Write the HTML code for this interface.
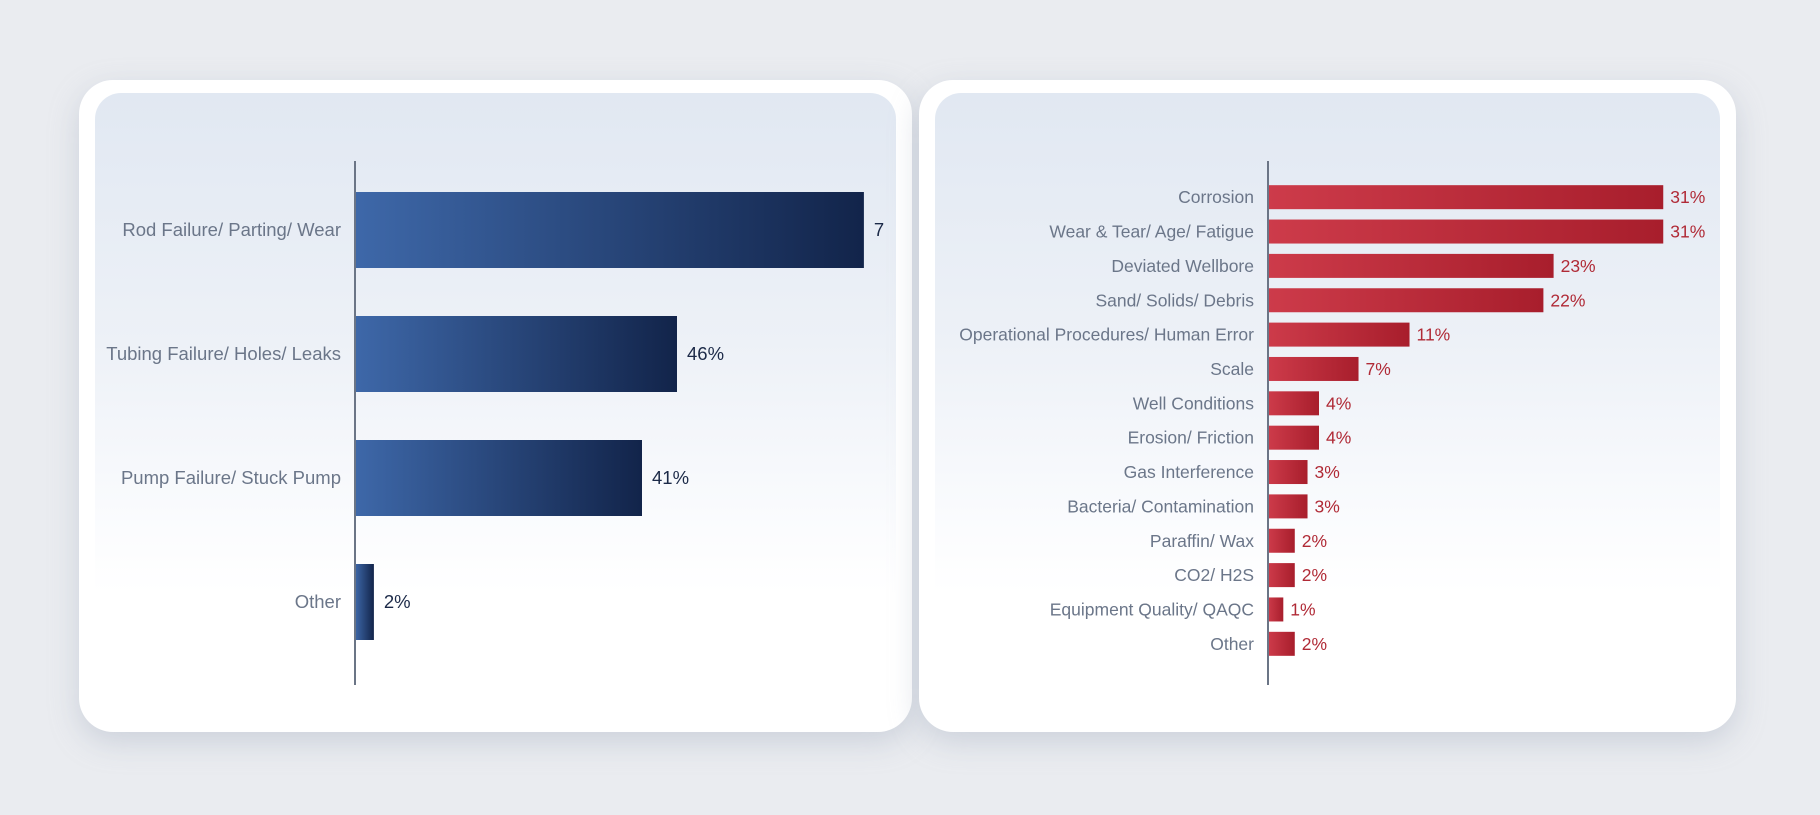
<!DOCTYPE html>
<html><head><meta charset="utf-8"><style>
html,body{margin:0;padding:0;width:1820px;height:815px;background:#eaecf0;overflow:hidden;font-family:"Liberation Sans",sans-serif}
.card{position:absolute;top:80px;height:652px;background:#fff;border-radius:34px;box-shadow:0 10px 30px rgba(150,160,180,.35)}
.inner{position:absolute;top:13px;bottom:13px;left:16px;right:16px;border-radius:26px;background:linear-gradient(#e1e8f2 0%,#edf1f7 40%,#fbfcfe 70%,#fff 80%)}
svg{position:absolute;left:0;top:0}
</style></head><body>
<div class="card" style="left:79px;width:833px"><div class="inner"></div></div>
<div class="card" style="left:919px;width:817px"><div class="inner"></div></div>
<svg id="chart" width="1820" height="815">
<defs>
<linearGradient id="gb" x1="0" x2="1"><stop offset="0" stop-color="#3e68a9"/><stop offset="1" stop-color="#12244a"/></linearGradient>
<linearGradient id="gr" x1="0" x2="1"><stop offset="0" stop-color="#cd3b4a"/><stop offset="1" stop-color="#a81e2c"/></linearGradient>
</defs>
</svg>
<script>
const leftCats=["Rod Failure/ Parting/ Wear","Tubing Failure/ Holes/ Leaks","Pump Failure/ Stuck Pump","Other"];
const leftVals=[72.7,46,41,2.7];
const leftLabels=["7","46%","41%","2%"];
const rightCats=["Corrosion","Wear & Tear/ Age/ Fatigue","Deviated Wellbore","Sand/ Solids/ Debris","Operational Procedures/ Human Error","Scale","Well Conditions","Erosion/ Friction","Gas Interference","Bacteria/ Contamination","Paraffin/ Wax","CO2/ H2S","Equipment Quality/ QAQC","Other"];
const rightVals=[31,31,22.4,21.6,11.1,7.1,4,4,3.1,3.1,2.1,2.1,1.2,2.1];
const rightLabels=["31%","31%","23%","22%","11%","7%","4%","4%","3%","3%","2%","2%","1%","2%"];
const NS="http://www.w3.org/2000/svg";
const svg=document.getElementById('chart');
function mk(tag,attrs,parent){const e=document.createElementNS(NS,tag);for(const k in attrs)e.setAttribute(k,attrs[k]);(parent||svg).appendChild(e);return e;}
function drawChart(o){
  const g=mk('g',{});
  
  
  const band=(o.bottom-o.top)/o.cats.length;
  const x=v=>o.x0+v*o.ppu;
  const y=i=>o.top+band*i+band/2;
  o.vals.forEach((v,i)=>{
    const r=mk('rect',{x:o.x0,y:y(i)-o.bh/2,width:x(v)-o.x0,height:o.bh,fill:o.fill},g);
    
    
    const t=mk('text',{x:o.x0-14,y:y(i)+6,'text-anchor':'end','font-size':o.fs,fill:'#6b7689'},g);
    t.textContent=o.cats[i];
    
    
    const vl=mk('text',{x:x(v)+o.gap,y:y(i)+6,'font-size':o.fs,fill:o.vc},g);
    vl.textContent=o.labels[i];
    
    
  });
  const ax=mk('line',{x1:o.x0,x2:o.x0,y1:161,y2:685,stroke:'#6b7586','stroke-width':2},g);
  
  
}
drawChart({name:'left-chart',cats:leftCats,vals:leftVals,labels:leftLabels,x0:355,ppu:7,top:168,bottom:664,bh:76,fill:'url(#gb)',vc:'#1c2a48',fs:18.5,gap:10});
drawChart({name:'right-chart',cats:rightCats,vals:rightVals,labels:rightLabels,x0:1268,ppu:12.75,top:180,bottom:661,bh:24,fill:'url(#gr)',vc:'#b02a36',fs:17.5,gap:7});
</script>
</body></html>
